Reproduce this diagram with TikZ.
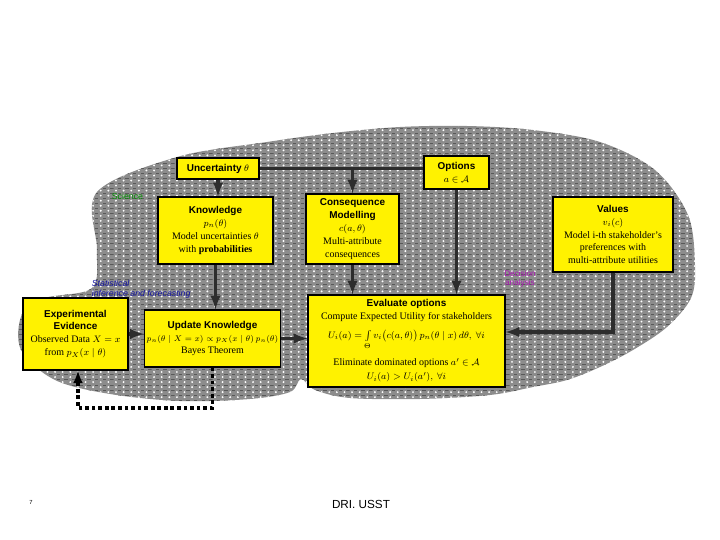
\documentclass[tikz,border=0pt]{standalone}
\usepackage{fontspec}
\setmainfont{Liberation Serif}
\setsansfont{Liberation Sans}
\usepackage{amsmath}
\usepackage{amssymb}
\usetikzlibrary{positioning,arrows,patterns}
\definecolor{blobgray}{RGB}{140,140,140}
\definecolor{linegray}{RGB}{45,45,45}
\definecolor{scigreen}{RGB}{0,140,0}
\definecolor{statblue}{RGB}{20,20,160}
\definecolor{decpurple}{RGB}{170,20,180}
\newcommand{\hd}[1]{{\sffamily\bfseries #1}}
\pgfdeclarepatternformonly{blobdots}{\pgfqpoint{-1pt}{-1pt}}{\pgfqpoint{6pt}{4pt}}{\pgfqpoint{6.5pt}{4.3pt}}{%
  \pgfpathcircle{\pgfqpoint{1.5pt}{1.5pt}}{0.9pt}\pgfusepath{fill}}
\pgfdeclarepatternformonly{blobdash}{\pgfqpoint{-1pt}{-1pt}}{\pgfqpoint{6pt}{4pt}}{\pgfqpoint{6.5pt}{4.3pt}}{%
  \pgfpathrectangle{\pgfqpoint{3pt}{3pt}}{\pgfqpoint{3pt}{0.7pt}}\pgfusepath{fill}}

\begin{document}
\begin{tikzpicture}[
  x=0.03cm, y=-0.03cm,
  box/.style={draw=black, line width=1pt, fill=yellow, align=center, inner sep=2pt,
    font=\fontsize{8.5}{11}\selectfont},
  conn/.style={draw=linegray, line width=3pt, -latex},
  link/.style={draw=linegray, line width=3pt},
  fback/.style={draw=black, line width=2.6pt, dash pattern=on 3.2pt off 2.4pt, -latex},
  area/.style={align=left, inner sep=0.5pt}
]
\useasboundingbox (0,0) rectangle (720,540);

% shaded areas
\path[fill=blobgray,
  postaction={pattern=blobdots, pattern color=white},
  postaction={pattern=blobdash, pattern color=black!65}]
  plot[smooth cycle, tension=0.55] coordinates {
    (97,192) (177,157) (267,142) (333,133) (400,127) (467,126) (533,130)
    (600,142) (655,170) (688,215) (695,265) (691,298) (667,327) (633,350)
    (600,367) (567,380) (533,387) (490,395) (420,399) (350,398) (315,390)
    (301,379) (290,392) (250,399) (180,401) (110,394) (55,380) (21,350)
    (22,314) (45,298) (92,288) (97,250)};

\node[area, text=scigreen, anchor=west, font=\sffamily\fontsize{7.5}{8}\selectfont] (sci) at (111,196) {Science};
\node[area, text=statblue, anchor=north west, font=\sffamily\itshape\fontsize{7.5}{9}\selectfont] (stat) at (91,279) {Statistical\\inference and forecasting};
\node[area, text=decpurple, align=center, font=\sffamily\fontsize{7}{8}\selectfont] (dec) at (520,279) {Decision\\analysis};

% boxes
\node[box, minimum width=2.46cm, minimum height=0.63cm] (unc) at (218,168.5) {\hd{Uncertainty} $\theta$};
\node[box, minimum width=1.95cm, minimum height=0.99cm] (opt) at (456.5,172.5) {\hd{Options}\\ $a\in\mathcal{A}$};
\node[box, minimum width=3.45cm, minimum height=2.01cm] (know) at (215.5,230.5)
  {\hd{Knowledge}\\ $p_n(\theta)$\\ Model uncertainties $\theta$\\ with \textbf{probabilities}};
\node[box, minimum width=2.79cm, minimum height=2.1cm] (cons) at (352.5,229)
  {\hd{Consequence}\\ \hd{Modelling}\\ $c(a,\theta)$\\ Multi-attribute\\ consequences};
\node[box, minimum width=3.6cm, minimum height=2.25cm] (val) at (613,234.5)
  {\hd{Values}\\ $v_i(c)$\\ Model i-th stakeholder's\\ preferences with\\ multi-attribute utilities};
\node[box, minimum width=3.15cm, minimum height=2.16cm] (exp) at (75.5,334)
  {\hd{Experimental}\\ \hd{Evidence}\\ Observed Data $X=x$\\ from $p_X(x\mid\theta)$};
\node[box, minimum width=3.87cm, minimum height=1.71cm] (upd) at (212.5,338.5)
  {\hd{Update Knowledge}\\ {\fontsize{7}{9}\selectfont$p_n(\theta\mid X=x)\propto p_X(x\mid\theta)\,p_n(\theta)$}\\ Bayes Theorem};
\node[box, minimum width=5.91cm, minimum height=2.76cm] (eval) at (406.5,341)
  {\hd{Evaluate options}\\ Compute Expected Utility for stakeholders\\[5pt]
   $U_i(a)=\int\limits_{\Theta} v_i\bigl(c(a,\theta)\bigr)\,p_n(\theta\mid x)\,d\theta,\ \forall i$\\[7pt]
   Eliminate dominated options $a'\in\mathcal{A}$\\[1pt] $U_i(a)>U_i(a'),\ \forall i$};

% connectors
\draw[link] (unc.east) -- (unc.east -| opt.west);
\draw[conn] (cons.north |- unc.east) -- (cons.north);
\draw[conn] (unc.south) -- (unc.south |- know.north);
\draw[conn] (opt.south) -- (opt.south |- eval.north);
\draw[conn] (cons.south) -- (cons.south |- eval.north);
\draw[conn] (know.south) -- (know.south |- upd.north);
\draw[conn] (exp.east) -- (exp.east -| upd.west);
\draw[conn] (upd.east) -- (upd.east -| eval.west);
\coordinate (vturn) at (615,332);
\draw[conn] (val.south) |- (vturn -| eval.east);
\coordinate (fb) at (78,408);
\draw[fback] (upd.south) |- (fb) -- (fb |- exp.south);

\node[font=\sffamily\fontsize{5}{6}\selectfont] (pg) at (31,502) {7};
\node[font=\sffamily\fontsize{10}{12}\selectfont] (foot) at (361,504) {DRI. USST};
\end{tikzpicture}
\end{document}
